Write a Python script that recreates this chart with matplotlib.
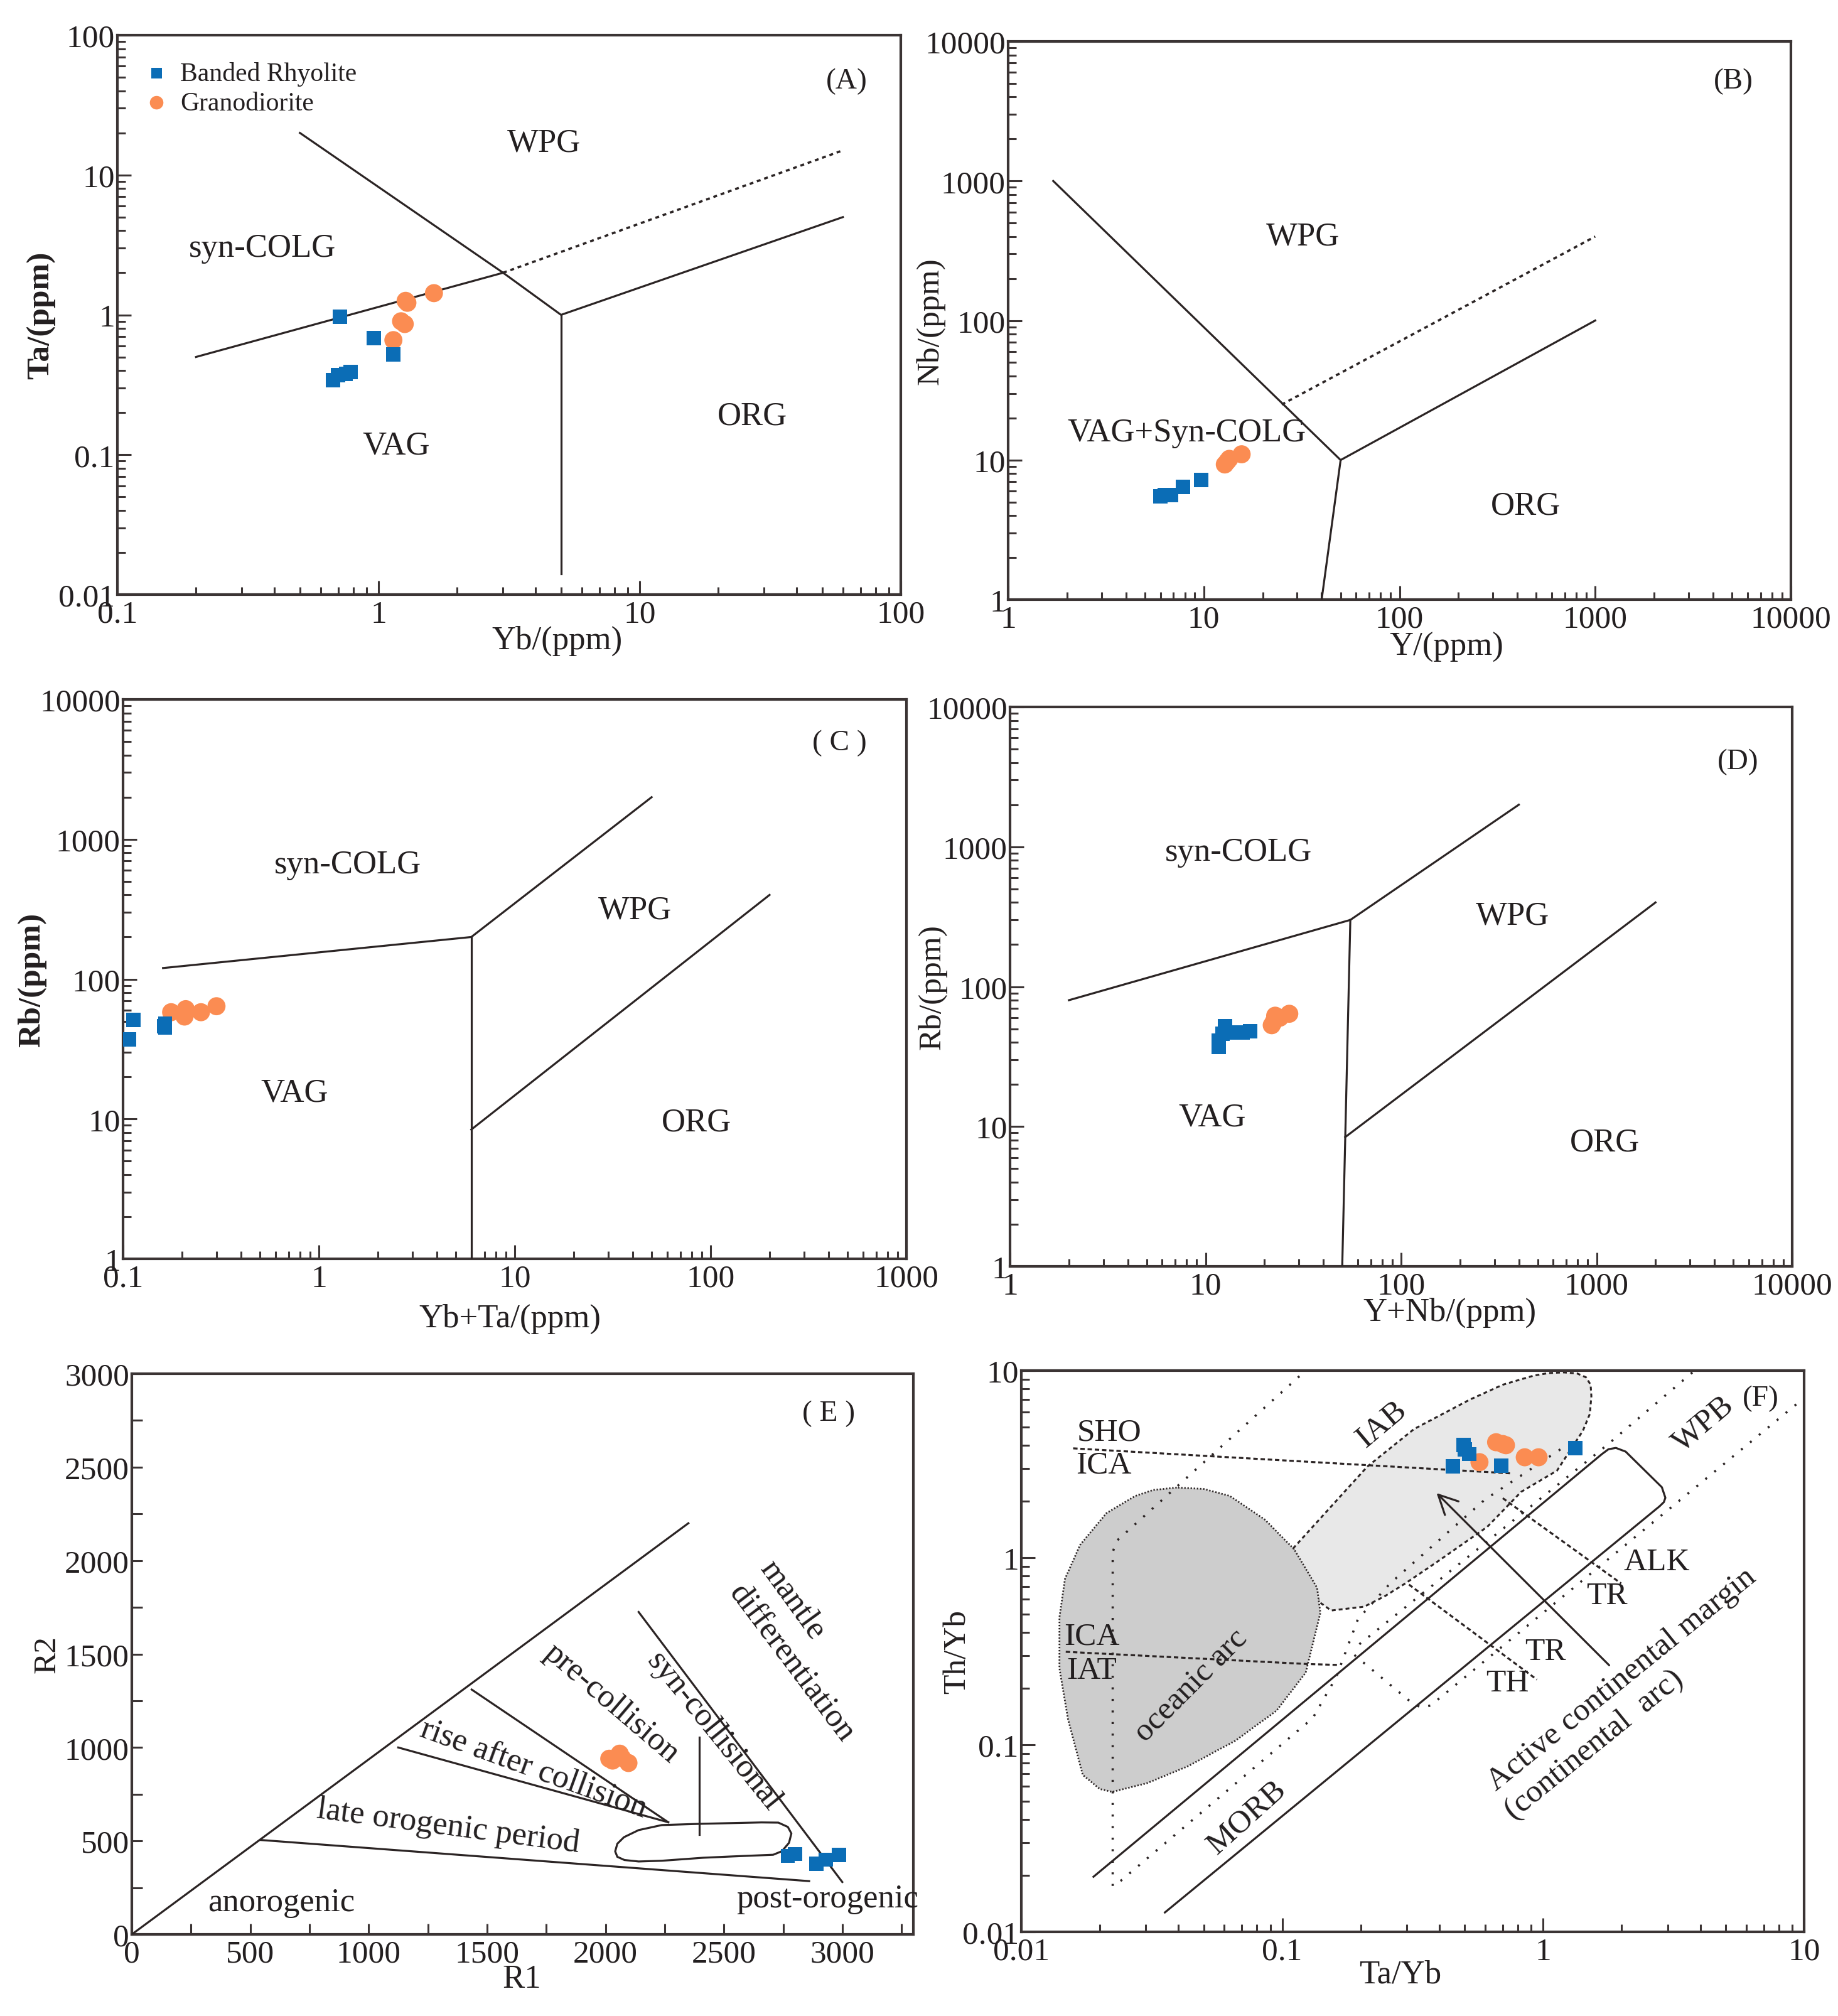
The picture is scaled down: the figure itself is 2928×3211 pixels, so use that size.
import numpy as np
import matplotlib
matplotlib.use("Agg")
import matplotlib.pyplot as plt
from matplotlib.ticker import LogLocator, FuncFormatter, NullFormatter, MultipleLocator
from matplotlib.patches import Polygon

plt.rcParams['font.family'] = ['Liberation Serif', 'DejaVu Serif']

INK = '#231f20'
LINE = '#2b2424'
BLUE = '#0b6db6'
ORANGE = '#fb8c52'

# ---------------- data ----------------
# (A) Yb - Ta
a_rhy_x = [0.71, 0.96, 1.14, 0.67, 0.70, 0.75, 0.78]
a_rhy_y = [0.97, 0.68, 0.52, 0.34, 0.37, 0.38, 0.39]
a_gra_x = [1.27, 1.29, 1.63, 1.22, 1.26, 1.14]
a_gra_y = [1.26, 1.22, 1.43, 0.90, 0.86, 0.66]

# (B) Y - Nb
b_rhy_x = [6.0, 6.3, 6.8, 7.8, 9.7]
b_rhy_y = [5.5, 5.6, 5.6, 6.4, 7.2]
b_gra_x = [12.8, 13.2, 13.5, 15.6]
b_gra_y = [9.3, 9.8, 10.2, 11.0]

# (C) Yb+Ta - Rb
c_rhy_x = [0.113, 0.107, 0.164, 0.164, 0.162]
c_rhy_y = [51, 37, 48, 45, 46]
c_gra_x = [0.176, 0.209, 0.206, 0.25, 0.30]
c_gra_y = [58, 61, 54, 58, 64]

# (D) Y+Nb - Rb
d_rhy_x = [11.7, 11.7, 12.2, 12.6, 14.2, 15.5, 16.9]
d_rhy_y = [37, 41, 46, 52, 47, 47, 48]
d_gra_x = [21.8, 22.3, 22.7, 24.0, 26.8]
d_gra_y = [53, 56, 62, 60, 64]

# (E) R1 - R2
e_rhy_x = [2770, 2800, 2890, 2930, 2985]
e_rhy_y = [420, 430, 378, 400, 425]
e_gra_x = [2016, 2060, 2097, 2030, 2070]
e_gra_y = [940, 967, 917, 930, 945]

# (F) Ta/Yb - Th/Yb
f_rhy_x = [0.495, 0.50, 0.52, 0.45, 0.69, 1.33]
f_rhy_y = [4.0, 3.78, 3.58, 3.07, 3.11, 3.84]
f_gra_x = [0.66, 0.72, 0.70, 0.57, 0.85, 0.96]
f_gra_y = [4.14, 3.99, 4.05, 3.24, 3.44, 3.44]

# field boundaries
a_solid = [[(0.2, 0.5), (3, 2)],
           [(0.5, 20), (3, 2), (5, 1), (60, 5)],
           [(5, 1), (5, 0.014)]]
a_dot = [(3, 2), (60, 15)]

b_solid = [[(1.7, 1000), (50, 10), (1000, 100)],
           [(50, 10), (40, 1)]]
b_dot = [(25, 25), (1000, 400)]

c_solid = [[(0.16, 120), (6, 200), (50, 2000)],
           [(6, 200), (6, 1)],
           [(6, 8.4), (200, 400)]]

d_solid = [[(2, 80), (55, 300), (400, 2000)],
           [(55, 300), (50, 1)],
           [(51.8, 8.4), (2000, 400)]]

e_solid = [[(0, 0), (2350, 2200)],
           [(545, 505), (2860, 285)],
           [(1125, 1000), (2265, 600)],
           [(1435, 1310), (2265, 600)],
           [(2140, 1725), (3000, 280)],
           [(2395, 1055), (2395, 535)]]
e_blob = [(2041, 444), (2050, 485), (2078, 520), (2140, 558), (2238, 585), (2412, 592),
          (2659, 599), (2730, 598), (2770, 575), (2785, 540), (2775, 490), (2745, 445),
          (2708, 426), (2535, 417), (2412, 410), (2238, 394), (2140, 390), (2080, 398),
          (2050, 415)]

f_ocean = [(0.0394, 2.37), (0.0320, 2.30), (0.0274, 2.14), (0.0212, 1.73), (0.0168, 1.17),
           (0.0147, 0.77), (0.0140, 0.48), (0.0140, 0.256), (0.0151, 0.137),
           (0.0172, 0.069), (0.0200, 0.058), (0.0223, 0.056), (0.0304, 0.0624),
           (0.0437, 0.077), (0.066, 0.105), (0.095, 0.152), (0.123, 0.243), (0.14, 0.507),
           (0.136, 0.69), (0.111, 1.11), (0.0857, 1.6), (0.0628, 2.14), (0.0500, 2.33)]
f_iab = [(0.110, 1.12), (0.212, 3.07), (0.32, 4.87), (0.524, 7.0), (0.70, 8.4),
         (0.92, 9.4), (1.05, 9.7), (1.2, 9.78), (1.35, 9.65), (1.46, 9.2), (1.52, 8.4),
         (1.53, 7.3), (1.51, 5.87), (1.42, 4.77), (1.13, 2.92), (0.824, 2.25),
         (0.61, 1.46), (0.388, 0.94), (0.296, 0.728), (0.248, 0.624), (0.206, 0.547),
         (0.154, 0.522), (0.139, 0.578)]
f_box = [(0.0189, 0.0197), (1.68, 3.58), (1.78, 3.80), (1.90, 3.86), (2.07, 3.69),
         (2.85, 2.38), (2.94, 2.09), (2.90, 1.98), (2.79, 1.88), (0.0355, 0.0127)]
f_dashed = [[(0.0158, 3.84), (0.76, 2.82)],
            [(0.0148, 0.314), (0.126, 0.27), (0.166, 0.267)],
            [(0.306, 0.718), (0.946, 0.223)],
            [(0.70, 2.08), (1.99, 0.728)]]
f_dotted = [[(0.0224, 0.0176), (0.0224, 1.07), (0.0232, 1.23), (0.121, 9.8)],
            [(0.024, 0.0187), (0.131, 0.139), (0.161, 0.23), (0.195, 0.469),
             (0.259, 0.728), (0.597, 2.04), (1.2, 3.9)],
            [(3.73, 9.77), (1.75, 3.98), (0.19, 0.33)],
            [(0.189, 0.302), (0.31, 0.17), (0.34, 0.158), (0.37, 0.162), (9.7, 6.9)]]
f_arrow_tail = (1.81, 0.262)
f_arrow_head = (0.386, 2.25)

# labels (text, x, y, rotation)
a_labels = [("WPG", 4.3, 17, 0), ("syn-COLG", 0.36, 3.0, 0), ("VAG", 1.17, 0.117, 0),
            ("ORG", 27, 0.19, 0)]
b_labels = [("WPG", 32, 400, 0), ("VAG+Syn-COLG", 8.2, 15.8, 0), ("ORG", 440, 4.7, 0)]
c_labels = [("syn-COLG", 1.4, 660, 0), ("WPG", 41, 312, 0), ("VAG", 0.75, 15.4, 0),
            ("ORG", 85, 9.5, 0)]
d_labels = [("syn-COLG", 14.7, 917, 0), ("WPG", 372, 320, 0), ("VAG", 10.8, 11.7, 0),
            ("ORG", 1100, 7.7, 0)]
e_labels = [("anorogenic", 631, 171, 0), ("late orogenic period", 1336, 578, -7.5),
            ("rise after collision", 1696, 888, -20), ("pre-collision", 2024, 1238, -40.5),
            ("syn-collisional", 2457, 1088, -51), ("mantle", 2790, 1790, -54),
            ("differentiation", 2786, 1455, -53), ("post-orogenic", 2936, 193, 0)]
f_labels = [("SHO", 0.0217, 4.69, 0), ("ICA", 0.0207, 3.14, 0), ("ICA", 0.0186, 0.381, 0),
            ("IAT", 0.0186, 0.25, 0), ("IAB", 0.241, 5.19, 40), ("WPB", 4.12, 5.19, 40),
            ("ALK", 2.72, 0.95, 0), ("TR", 1.76, 0.624, 0), ("TR", 1.02, 0.314, 0),
            ("TH", 0.73, 0.213, 0), ("oceanic arc", 0.0448, 0.209, 45),
            ("MORB", 0.0733, 0.0411, 42), ("Active continental margin", 2.0, 0.225, 39),
            ("(continental  arc)", 1.57, 0.10, 39)]

# ---------------- helpers ----------------
W, H = 2928, 3212


def make_ax(fig, left, top, right, bottom):
    return fig.add_axes([left / W, 1 - bottom / H, (right - left) / W, (bottom - top) / H])


def style(ax):
    for s in ax.spines.values():
        s.set_linewidth(3)
        s.set_color('#3b3434')
    ax.tick_params(which='both', direction='in', top=False, right=False,
                   colors='#3b3434', labelcolor=INK, labelsize=37, width=2.2)
    ax.tick_params(which='major', length=16)
    ax.tick_params(which='minor', length=9)
    ax.tick_params(axis='y', pad=3)
    ax.tick_params(axis='x', pad=6)


def log_axes(ax, xlim, ylim):
    ax.set_xscale('log')
    ax.set_yscale('log')
    ax.set_xlim(*xlim)
    ax.set_ylim(*ylim)
    fmt = FuncFormatter(lambda v, p: f'{v:g}')
    for axis in (ax.xaxis, ax.yaxis):
        axis.set_major_locator(LogLocator(base=10))
        axis.set_minor_locator(LogLocator(base=10, subs=np.arange(2, 10)))
        axis.set_major_formatter(fmt)
        axis.set_minor_formatter(NullFormatter())


def labels(ax, xlabel, ylabel, xpos, ypos, bold=True):
    ax.set_xlabel(xlabel, fontsize=38, color=INK)
    ax.set_ylabel(ylabel, fontsize=37, color=INK, fontweight='bold' if bold else 'normal')
    ax.xaxis.set_label_coords(*xpos)
    ax.yaxis.set_label_coords(*ypos)
    ax.xaxis.label.set_va('center')
    ax.yaxis.label.set_va('center')


def draw_lines(ax, segs, **kw):
    for seg in segs:
        xs, ys = zip(*seg)
        ax.plot(xs, ys, color=LINE, zorder=3, **kw)


def put_labels(ax, items, size=38):
    for t, x, y, r in items:
        ax.text(x, y, t, fontsize=size, color=INK, ha='center', va='center',
                rotation=r, rotation_mode='anchor', zorder=4)


def points(ax, rx, ry, gx, gy):
    h1 = ax.scatter(rx, ry, marker='s', s=270, c=BLUE, edgecolors='none', zorder=6,
                    label='Banded Rhyolite')
    h2 = ax.scatter(gx, gy, marker='o', s=430, c=ORANGE, edgecolors='none', zorder=5,
                    label='Granodiorite')
    return h1, h2


def tag(ax, text, x, y):
    ax.text(x, y, text, fontsize=34, color=INK, ha='center', va='center', zorder=4)


fig = plt.figure(figsize=(W / 100, H / 100), dpi=100)

# ---------------- (A) ----------------
ax = make_ax(fig, 187, 57, 1435, 948)
log_axes(ax, (0.1, 100), (0.01, 100))
style(ax)
draw_lines(ax, a_solid, lw=2.3)
draw_lines(ax, [a_dot], lw=2.6, linestyle=(0, (1.7, 1.7)))
put_labels(ax, a_labels)
tag(ax, "(A)", 62, 47)
h1, h2 = points(ax, a_rhy_x, a_rhy_y, a_gra_x, a_gra_y)
ax.legend(handles=[h1, h2], loc='upper left', frameon=False, fontsize=30,
          handlelength=1.0, handletextpad=0.4, borderpad=0.2, borderaxespad=0.8,
          labelspacing=0.2, markerscale=0.75, labelcolor=INK)
labels(ax, "Yb/(ppm)", "Ta/(ppm)", (0.561, -0.082), (-0.098, 0.5))

# ---------------- (B) ----------------
ax = make_ax(fig, 1606, 67, 2853, 956)
log_axes(ax, (1, 10000), (1, 10000))
style(ax)
draw_lines(ax, b_solid, lw=2.3)
draw_lines(ax, [b_dot], lw=2.6, linestyle=(0, (1.7, 1.7)))
put_labels(ax, b_labels)
tag(ax, "(B)", 5100, 5200)
points(ax, b_rhy_x, b_rhy_y, b_gra_x, b_gra_y)
labels(ax, "Y/(ppm)", "Nb/(ppm)", (0.56, -0.084), (-0.099, 0.5), bold=False)

# ---------------- (C) ----------------
ax = make_ax(fig, 196, 1115, 1444, 2006)
log_axes(ax, (0.1, 1000), (1, 10000))
style(ax)
draw_lines(ax, c_solid, lw=2.3)
put_labels(ax, c_labels)
tag(ax, "( C )", 456, 4900)
points(ax, c_rhy_x, c_rhy_y, c_gra_x, c_gra_y)
labels(ax, "Yb+Ta/(ppm)", "Rb/(ppm)", (0.494, -0.107), (-0.116, 0.5))

# ---------------- (D) ----------------
ax = make_ax(fig, 1609, 1127, 2855, 2018)
log_axes(ax, (1, 10000), (1, 10000))
style(ax)
draw_lines(ax, d_solid, lw=2.3)
put_labels(ax, d_labels)
tag(ax, "(D)", 5265, 4064)
points(ax, d_rhy_x, d_rhy_y, d_gra_x, d_gra_y)
labels(ax, "Y+Nb/(ppm)", "Rb/(ppm)", (0.562, -0.082), (-0.0995, 0.5), bold=False)

# ---------------- (E) ----------------
ax = make_ax(fig, 210, 2189, 1455, 3082)
ax.set_xlim(0, 3300)
ax.set_ylim(0, 3000)
style(ax)
ax.xaxis.set_major_locator(MultipleLocator(500))
ax.xaxis.set_minor_locator(MultipleLocator(250))
ax.yaxis.set_major_locator(MultipleLocator(500))
ax.yaxis.set_minor_locator(MultipleLocator(250))
ax.tick_params(which='both', length=12)
draw_lines(ax, e_solid, lw=2.3)
ax.add_patch(Polygon(e_blob, closed=True, fill=False, edgecolor=LINE, lw=2.3, zorder=3,
                     joinstyle='round'))
put_labels(ax, e_labels)
tag(ax, "( E )", 2943, 2788)
points(ax, e_rhy_x, e_rhy_y, e_gra_x, e_gra_y)
labels(ax, "R1", "R2", (0.499, -0.08), (-0.108, 0.5), bold=False)

# ---------------- (F) ----------------
ax = make_ax(fig, 1627, 2184, 2874, 3078)
log_axes(ax, (0.01, 10), (0.01, 10))
style(ax)
ax.add_patch(Polygon(f_iab, closed=True, facecolor='#e8e8e8', edgecolor=LINE, lw=2.2,
                     linestyle=(0, (2.0, 1.6)), zorder=1))
ax.add_patch(Polygon(f_ocean, closed=True, facecolor='#cdcdcd', edgecolor=LINE, lw=2.0,
                     linestyle=(0, (0.8, 1.0)), zorder=2))
draw_lines(ax, [f_box], lw=2.3)
draw_lines(ax, f_dashed, lw=2.3, linestyle=(0, (2.2, 1.4)))
draw_lines(ax, f_dotted, lw=2.6, linestyle=(0, (0.9, 4.2)))
ax.annotate('', xy=f_arrow_head, xytext=f_arrow_tail, zorder=4,
            arrowprops=dict(arrowstyle='->', color=LINE, lw=2.3, mutation_scale=55))
put_labels(ax, f_labels, size=37)
tag(ax, "(F)", 6.82, 7.11)
points(ax, f_rhy_x, f_rhy_y, f_gra_x, f_gra_y)
labels(ax, "Ta/Yb", "Th/Yb", (0.484, -0.076), (-0.082, 0.5), bold=False)

fig.savefig('out.png', dpi=100, facecolor='white')
